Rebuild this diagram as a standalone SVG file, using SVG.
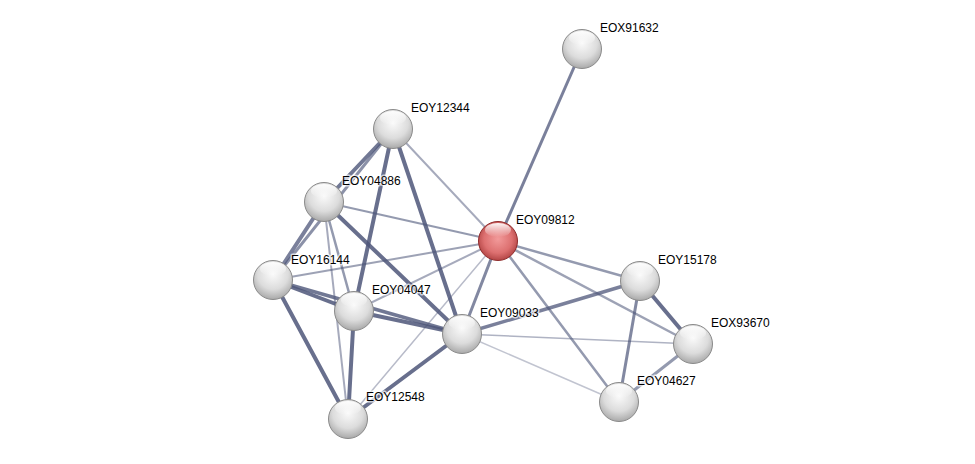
<svg xmlns="http://www.w3.org/2000/svg" width="975" height="464" viewBox="0 0 975 464">
<defs>
<radialGradient id="gw" cx="50%" cy="35%" r="65%">
<stop offset="0" stop-color="#fafafa"/>
<stop offset="0.6" stop-color="#dcdcdc"/>
<stop offset="1" stop-color="#a9a9a9"/>
</radialGradient>
<radialGradient id="gr" cx="50%" cy="45%" r="60%">
<stop offset="0" stop-color="#f29a9a"/>
<stop offset="0.6" stop-color="#dd7070"/>
<stop offset="1" stop-color="#a83a3a"/>
</radialGradient>
<linearGradient id="hl" x1="0" y1="0" x2="0" y2="1">
<stop offset="0" stop-color="#fff" stop-opacity="0.95"/>
<stop offset="1" stop-color="#fff" stop-opacity="0"/>
</linearGradient>
</defs>
<style>
.e{stroke:#4d5679;fill:none;stroke-linecap:round}
.n{fill:url(#gw);stroke:#8a8a8a;stroke-width:1}
.r{fill:url(#gr);stroke:#8f2c2c;stroke-width:1}
.h{fill:url(#hl)}
.t{font-family:"Liberation Sans",Arial,sans-serif;font-size:12px;fill:#000;paint-order:stroke;stroke:#fff;stroke-width:3px;stroke-opacity:0.7;stroke-linejoin:round}
</style>
<rect width="975" height="464" fill="#fff"/>
<g id="edges">
<line class="e" x1="582" y1="49" x2="498" y2="241" stroke-width="3" stroke-opacity="0.75"/>
<line class="e" x1="393" y1="129" x2="324" y2="202" stroke-width="4" stroke-opacity="0.8"/>
<line class="e" x1="393" y1="129" x2="273" y2="280" stroke-width="3" stroke-opacity="0.65"/>
<line class="e" x1="393" y1="129" x2="354" y2="311" stroke-width="4" stroke-opacity="0.85"/>
<line class="e" x1="393" y1="129" x2="462" y2="334" stroke-width="4" stroke-opacity="0.85"/>
<line class="e" x1="393" y1="129" x2="498" y2="241" stroke-width="2" stroke-opacity="0.5"/>
<line class="e" x1="324" y1="202" x2="498" y2="241" stroke-width="2" stroke-opacity="0.6"/>
<line class="e" x1="324" y1="202" x2="273" y2="280" stroke-width="4" stroke-opacity="0.75"/>
<line class="e" x1="324" y1="202" x2="354" y2="311" stroke-width="2.5" stroke-opacity="0.6"/>
<line class="e" x1="324" y1="202" x2="462" y2="334" stroke-width="4" stroke-opacity="0.85"/>
<line class="e" x1="324" y1="202" x2="348" y2="419" stroke-width="2" stroke-opacity="0.5"/>
<line class="e" x1="273" y1="280" x2="498" y2="241" stroke-width="2" stroke-opacity="0.55"/>
<line class="e" x1="273" y1="280" x2="354" y2="311" stroke-width="4" stroke-opacity="0.85"/>
<line class="e" x1="273" y1="280" x2="462" y2="334" stroke-width="3.5" stroke-opacity="0.8"/>
<line class="e" x1="273" y1="280" x2="348" y2="419" stroke-width="4" stroke-opacity="0.85"/>
<line class="e" x1="354" y1="311" x2="462" y2="334" stroke-width="4" stroke-opacity="0.85"/>
<line class="e" x1="354" y1="311" x2="348" y2="419" stroke-width="4" stroke-opacity="0.85"/>
<line class="e" x1="354" y1="311" x2="498" y2="241" stroke-width="2" stroke-opacity="0.5"/>
<line class="e" x1="462" y1="334" x2="498" y2="241" stroke-width="3" stroke-opacity="0.7"/>
<line class="e" x1="462" y1="334" x2="348" y2="419" stroke-width="4" stroke-opacity="0.85"/>
<line class="e" x1="348" y1="419" x2="498" y2="241" stroke-width="1.5" stroke-opacity="0.4"/>
<line class="e" x1="462" y1="334" x2="640" y2="281" stroke-width="3.5" stroke-opacity="0.75"/>
<line class="e" x1="462" y1="334" x2="693" y2="344" stroke-width="1.5" stroke-opacity="0.45"/>
<line class="e" x1="462" y1="334" x2="619" y2="402" stroke-width="1.5" stroke-opacity="0.35"/>
<line class="e" x1="498" y1="241" x2="640" y2="281" stroke-width="2.5" stroke-opacity="0.6"/>
<line class="e" x1="498" y1="241" x2="693" y2="344" stroke-width="2.5" stroke-opacity="0.55"/>
<line class="e" x1="498" y1="241" x2="619" y2="402" stroke-width="2.5" stroke-opacity="0.6"/>
<line class="e" x1="640" y1="281" x2="693" y2="344" stroke-width="4" stroke-opacity="0.85"/>
<line class="e" x1="640" y1="281" x2="619" y2="402" stroke-width="3" stroke-opacity="0.7"/>
<line class="e" x1="693" y1="344" x2="619" y2="402" stroke-width="3" stroke-opacity="0.6"/>
</g>
<g id="EOX91632"><circle class="n" cx="582" cy="49" r="19.5"/><ellipse class="h" cx="582" cy="38" rx="13" ry="7"/><text class="t" x="600" y="32">EOX91632</text></g>
<g id="EOY12344"><circle class="n" cx="393" cy="129" r="19.5"/><ellipse class="h" cx="393" cy="118" rx="13" ry="7"/><text class="t" x="411" y="112">EOY12344</text></g>
<g id="EOY04886"><circle class="n" cx="324" cy="202" r="19.5"/><ellipse class="h" cx="324" cy="191" rx="13" ry="7"/><text class="t" x="342" y="185">EOY04886</text></g>
<g id="EOY09812"><circle class="r" cx="498" cy="241" r="19.5"/><ellipse class="h" cx="498" cy="230" rx="13" ry="7"/><text class="t" x="516" y="224">EOY09812</text></g>
<g id="EOY16144"><circle class="n" cx="273" cy="280" r="19.5"/><ellipse class="h" cx="273" cy="269" rx="13" ry="7"/><text class="t" x="291" y="264">EOY16144</text></g>
<g id="EOY15178"><circle class="n" cx="640" cy="281" r="19.5"/><ellipse class="h" cx="640" cy="270" rx="13" ry="7"/><text class="t" x="658" y="264">EOY15178</text></g>
<g id="EOY04047"><circle class="n" cx="354" cy="311" r="19.5"/><ellipse class="h" cx="354" cy="300" rx="13" ry="7"/><text class="t" x="372" y="294">EOY04047</text></g>
<g id="EOY09033"><circle class="n" cx="462" cy="334" r="19.5"/><ellipse class="h" cx="462" cy="323" rx="13" ry="7"/><text class="t" x="480" y="317">EOY09033</text></g>
<g id="EOX93670"><circle class="n" cx="693" cy="344" r="19.5"/><ellipse class="h" cx="693" cy="333" rx="13" ry="7"/><text class="t" x="711" y="327">EOX93670</text></g>
<g id="EOY04627"><circle class="n" cx="619" cy="402" r="19.5"/><ellipse class="h" cx="619" cy="391" rx="13" ry="7"/><text class="t" x="637" y="385">EOY04627</text></g>
<g id="EOY12548"><circle class="n" cx="348" cy="419" r="19.5"/><ellipse class="h" cx="348" cy="408" rx="13" ry="7"/><text class="t" x="366" y="401">EOY12548</text></g>
</svg>
